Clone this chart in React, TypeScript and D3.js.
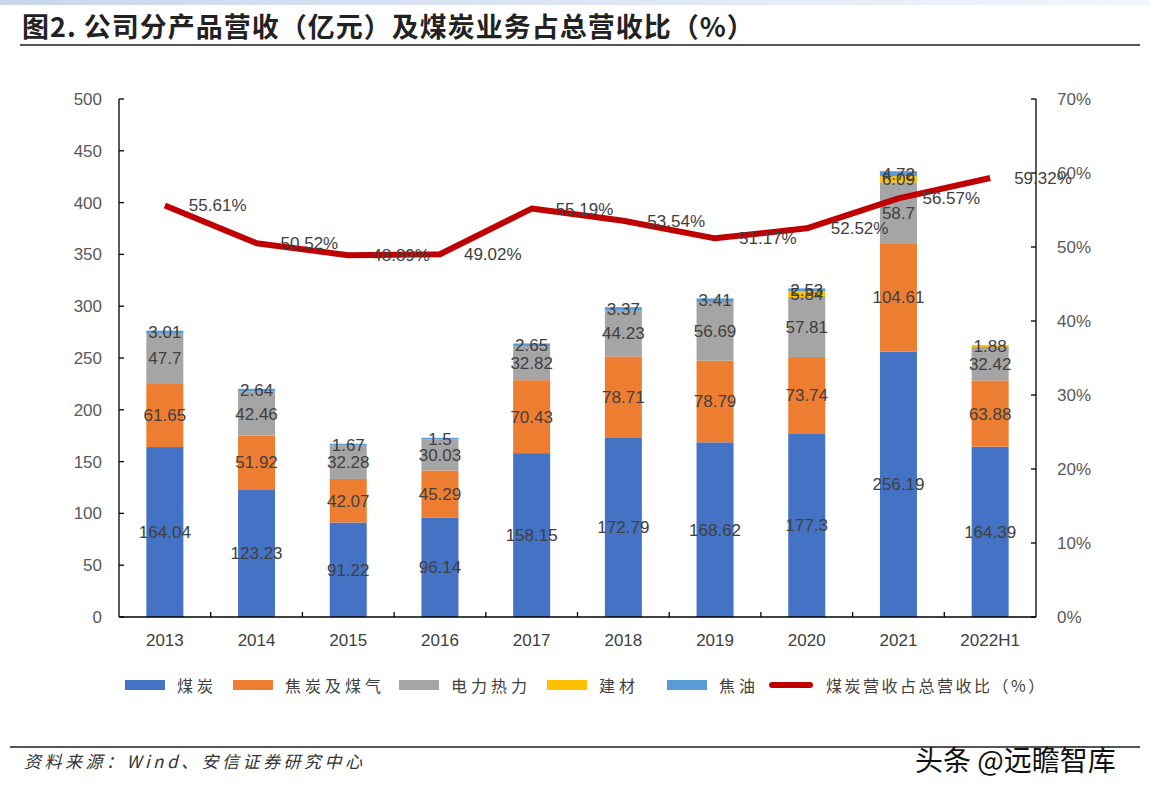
import React from "react";
import * as d3 from "d3";

const categories = ["2013", "2014", "2015", "2016", "2017", "2018", "2019", "2020", "2021", "2022H1"];
const coal = [164.04, 123.23, 91.22, 96.14, 158.15, 172.79, 168.62, 177.3, 256.19, 164.39];
const coke = [61.65, 51.92, 42.07, 45.29, 70.43, 78.71, 78.79, 73.74, 104.61, 63.88];
const power = [47.7, 42.46, 32.28, 30.03, 32.82, 44.23, 56.69, 57.81, 58.7, 32.42];
const building = [null, null, null, null, null, null, null, 5.84, 6.09, 1.88];
const tar = [3.01, 2.64, 1.67, 1.5, 2.65, 3.37, 3.41, 2.53, 4.72, null];
const coalShare = [55.61, 50.52, 48.89, 49.02, 55.19, 53.54, 51.17, 52.52, 56.57, 59.32];
const leftTicks = [0, 50, 100, 150, 200, 250, 300, 350, 400, 450, 500];
const rightTicks = [0, 10, 20, 30, 40, 50, 60, 70];

const seriesNames = ["煤炭", "焦炭及煤气", "电力热力", "建材", "焦油"];
const seriesColors = ["#4472C4", "#ED7D31", "#A5A5A5", "#FFC000", "#5B9BD5"];
const lineName = "煤炭营收占总营收比（%）";
const lineColor = "#C00000";

const FONT = "Arial, 'Liberation Sans', 'Noto Sans CJK SC', sans-serif";
const CJK = "'Noto Sans CJK SC', sans-serif";

export default function App() {
  const W = 1150, H = 793;
  const x0 = 119, x1 = 1036, yTop = 99, yBot = 617;
  const x = d3.scaleBand<string>().domain(categories).range([x0, x1]).paddingInner(0).paddingOuter(0);
  const bw = 37;
  const yL = d3.scaleLinear().domain([0, 500]).range([yBot, yTop]);
  const yR = d3.scaleLinear().domain([0, 70]).range([yBot, yTop]);
  const allSeries = [coal, coke, power, building, tar];

  const cx = (c: string) => (x(c) as number) + x.bandwidth() / 2;

  const bars: React.ReactNode[] = [];
  const labels: React.ReactNode[] = [];
  categories.forEach((c, i) => {
    let acc = 0;
    allSeries.forEach((s, k) => {
      const v = s[i];
      if (v == null) return;
      const yA = yL(acc), yB = yL(acc + v);
      bars.push(
        <rect key={`b${i}-${k}`} x={cx(c) - bw / 2} y={yB} width={bw} height={yA - yB} fill={seriesColors[k]} />
      );
      labels.push(
        <text key={`l${i}-${k}`} x={cx(c)} y={(yA + yB) / 2} dy="0.35em" textAnchor="middle" fontSize={17} fill="#404040" fontFamily={FONT}>
          {String(v)}
        </text>
      );
      acc += v;
    });
  });

  const line = d3.line<number>().x((_, i) => cx(categories[i])).y((d) => yR(d));

  const legendItems = [
    { x: 125, w: 40, label: seriesNames[0], color: seriesColors[0] },
    { x: 233, w: 40, label: seriesNames[1], color: seriesColors[1] },
    { x: 399, w: 40, label: seriesNames[2], color: seriesColors[2] },
    { x: 547, w: 40, label: seriesNames[3], color: seriesColors[3] },
    { x: 667, w: 40, label: seriesNames[4], color: seriesColors[4] },
  ];

  return (
    <svg width={W} height={H} style={{ position: "absolute", left: 0, top: 0, background: "#fff" }}>
      <defs>
        <linearGradient id="topg" x1="0" x2="1" y1="0" y2="0">
          <stop offset="0" stopColor="#c9d7ee" />
          <stop offset="1" stopColor="#f2f5fb" />
        </linearGradient>
      </defs>
      <rect x={0} y={0} width={W} height={5} fill="url(#topg)" />
      <text x={22} y={37} fontSize={27} fontWeight="bold" fill="#222" fontFamily={CJK} letterSpacing={1}>
        图2. 公司分产品营收（亿元）及煤炭业务占总营收比（%）
      </text>
      <line x1={20} x2={1140} y1={45} y2={45} stroke="#555" strokeWidth={2} />

      {bars}

      {/* axes */}
      <line x1={x0} x2={x0} y1={yTop} y2={yBot} stroke="#000" strokeWidth={1.3} />
      {leftTicks.map((t) => (
        <g key={`lt${t}`}>
          <line x1={x0} x2={x0 + 5} y1={yL(t)} y2={yL(t)} stroke="#000" strokeWidth={1.3} />
          <text x={102} y={yL(t)} dy="0.35em" textAnchor="end" fontSize={17} fill="#595959" fontFamily={FONT}>{t}</text>
        </g>
      ))}
      <line x1={x1} x2={x1} y1={yTop} y2={yBot} stroke="#000" strokeWidth={1.3} />
      {rightTicks.map((t) => (
        <g key={`rt${t}`}>
          <line x1={x1 - 5} x2={x1} y1={yR(t)} y2={yR(t)} stroke="#000" strokeWidth={1.3} />
          <text x={1057} y={yR(t)} dy="0.35em" textAnchor="start" fontSize={17} fill="#595959" fontFamily={FONT}>{t}%</text>
        </g>
      ))}
      <line x1={x0} x2={x1} y1={yBot} y2={yBot} stroke="#000" strokeWidth={1.3} />
      {categories.map((c, i) => (
        <g key={`ct${c}`}>
          {i > 0 && <line x1={x(c) as number} x2={x(c) as number} y1={yBot} y2={yBot - 5} stroke="#000" strokeWidth={1.3} />}
          <text x={cx(c)} y={640} dy="0.35em" textAnchor="middle" fontSize={17} fill="#404040" fontFamily={FONT}>{c}</text>
        </g>
      ))}

      {labels}

      <path d={line(coalShare) || ""} fill="none" stroke={lineColor} strokeWidth={6} strokeLinejoin="round" />
      {coalShare.map((v, i) => (
        <text key={`pl${i}`} x={cx(categories[i]) + 24} y={yR(v)} dy="0.35em" textAnchor="start" fontSize={17} fill="#404040" fontFamily={FONT}>
          {v.toFixed(2)}%
        </text>
      ))}

      {/* legend */}
      {legendItems.map((it) => (
        <g key={it.label}>
          <rect x={it.x} y={680} width={it.w} height={10} fill={it.color} />
          <text x={it.x + it.w + 12} y={686} dy="0.35em" fontSize={16} fill="#404040" fontFamily={CJK} letterSpacing={4}>{it.label}</text>
        </g>
      ))}
      <line x1={772} x2={810} y1={685} y2={685} stroke={lineColor} strokeWidth={6} strokeLinecap="round" />
      <text x={826} y={686} dy="0.35em" fontSize={16} fill="#404040" fontFamily={CJK} letterSpacing={2.5}>{lineName}</text>

      {/* footer */}
      <line x1={10} x2={1140} y1={747} y2={747} stroke="#555" strokeWidth={2} />
      <text x={24} y={768} fontSize={17} fill="#333" fontStyle="italic" fontFamily={CJK} letterSpacing={3.5}>资料来源：Wind、安信证券研究中心</text>
      <text x={915} y={771} fontSize={28} fill="#111" fontFamily={CJK}>头条 @远瞻智库</text>
    </svg>
  );
}
